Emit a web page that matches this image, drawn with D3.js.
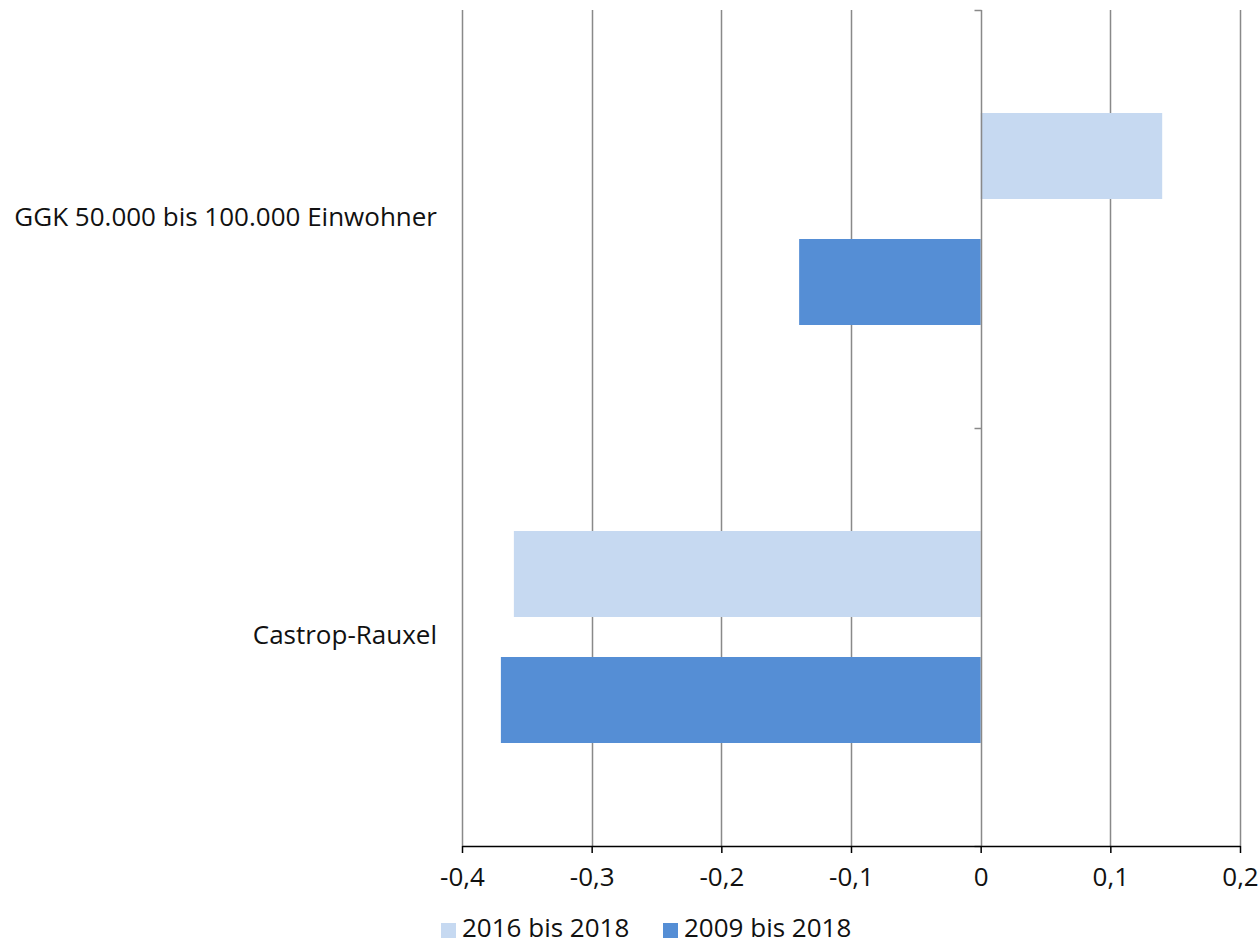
<!DOCTYPE html>
<html><head><meta charset="utf-8">
<script src="https://cdn.jsdelivr.net/npm/d3@7"></script>
<style>body{margin:0;background:#fff}svg{display:block;font-family:"Open Sans","Noto Sans",sans-serif}</style>
</head><body><svg id="c" width="1259" height="944"></svg>
<script>
const categories = ["GGK 50.000 bis 100.000 Einwohner", "Castrop-Rauxel"];
const seriesNames = ["2016 bis 2018", "2009 bis 2018"];
const series2016 = [0.14, -0.36];
const series2009 = [-0.14, -0.37];
const tickValues = [-0.4, -0.3, -0.2, -0.1, 0, 0.1, 0.2];
const tickLabels = ["-0,4", "-0,3", "-0,2", "-0,1", "0", "0,1", "0,2"];
const colors = ["#C6D9F1", "#558ED5"];

(function () {
const FS = 26;
const svg = d3.select("#c");
const pLeft = 462, pRight = 1240, pTop = 10, pBottom = 846;
const x = d3.scaleLinear().domain([-0.4, 0.2]).range([pLeft, pRight]);
const y0 = d3.scaleBand().domain(categories).range([pTop, pBottom]).padding(0);
const bw = y0.bandwidth();
const y1 = d3.scaleBand().domain(seriesNames)
  .range([bw * 103 / 418, bw * 315 / 418]).paddingInner(40 / 126).paddingOuter(0);

svg.append("g").selectAll("line").data(tickValues.filter(v => v !== 0)).join("line")
  .attr("x1", d => Math.round(x(d)) + 0.5).attr("x2", d => Math.round(x(d)) + 0.5)
  .attr("y1", pTop).attr("y2", pBottom).attr("stroke", "#898989").attr("stroke-width", 1.5);

const data = categories.map((c, i) => ({ c, vals: [series2016[i], series2009[i]] }));
const g = svg.append("g");
data.forEach(d => {
  d.vals.forEach((v, j) => {
    g.append("rect")
      .attr("x", Math.min(x(0), x(v))).attr("width", Math.abs(x(v) - x(0)))
      .attr("y", y0(d.c) + y1(seriesNames[j])).attr("height", y1.bandwidth())
      .attr("fill", colors[j]);
  });
});

const zx = Math.round(x(0)) + 0.5;
svg.append("line").attr("x1", zx).attr("x2", zx).attr("y1", pTop).attr("y2", pBottom)
  .attr("stroke", "#898989").attr("stroke-width", 1.5);
[pTop, pTop + bw, pBottom].forEach(yy => {
  svg.append("line").attr("x1", zx - 7).attr("x2", zx).attr("y1", Math.round(yy) + 0.5).attr("y2", Math.round(yy) + 0.5)
    .attr("stroke", "#898989").attr("stroke-width", 1.5);
});

const xAxis = d3.axisBottom(x).tickValues(tickValues).tickFormat((d, i) => tickLabels[i]).tickSize(7).tickSizeOuter(0).tickPadding(15);
const ax = svg.append("g").attr("transform", `translate(0,${pBottom})`).call(xAxis);
ax.select(".domain").attr("stroke", "#000").attr("stroke-width", 1.5);
ax.selectAll(".tick line").attr("stroke", "#000").attr("stroke-width", 1.5);
ax.selectAll(".tick text").attr("font-size", FS).attr("fill", "#111").style("font-family", "'Open Sans','Noto Sans',sans-serif");

svg.append("g").selectAll("text").data(categories).join("text")
  .attr("x", 437).attr("y", d => y0(d) + bw / 2 + 7)
  .attr("text-anchor", "end").attr("font-size", FS).attr("fill", "#111").text(d => d);

const legX = [441, 663];
const leg = svg.append("g");
seriesNames.forEach((s, i) => {
  leg.append("rect").attr("x", legX[i]).attr("y", 923).attr("width", 15).attr("height", 15).attr("fill", colors[i]);
  leg.append("text").attr("x", legX[i] + 21).attr("y", 937).attr("font-size", FS).attr("fill", "#111").text(s);
});
})();
</script></body></html>
